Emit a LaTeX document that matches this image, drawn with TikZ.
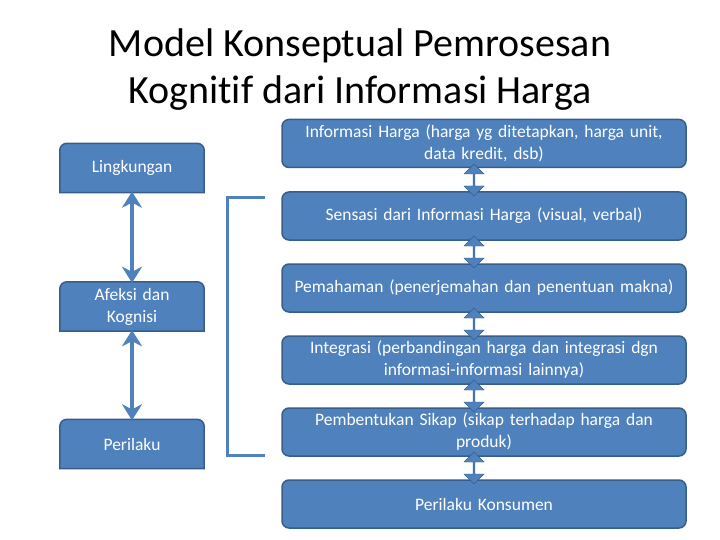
\documentclass[tikz,border=0pt]{standalone}
\usepackage{fontspec}
\setmainfont[Ligatures=NoCommon]{Carlito}
\usetikzlibrary{arrows.meta,shapes.arrows,backgrounds}
\definecolor{boxfill}{HTML}{4F81BD}
\definecolor{boxline}{HTML}{385D8A}
\tikzset{
  rbox/.style={draw=boxline,line width=1.5pt,fill=boxfill,rounded corners=7pt,
    text=white,font=\fontsize{17.5}{22}\selectfont,align=center,
    minimum width=404pt,minimum height=48pt,text width=395pt,inner sep=0pt},
  lbox/.style={text=white,font=\fontsize{17.5}{22}\selectfont,align=center,
    minimum width=144pt,minimum height=49pt,text width=135pt,inner sep=0pt},
  lshape/.style={draw=boxline,line width=1.5pt,fill=boxfill},
  bigarrow/.style={draw=boxfill,line width=4pt,
    {Stealth[length=16pt,width=20pt,inset=5pt]}-{Stealth[length=16pt,width=20pt,inset=5pt]},shorten <=-1pt,shorten >=-1pt},
  smallarrow/.style={double arrow,fill=boxfill,draw=boxline,line width=0.4pt,rotate=90,
    minimum height=32pt,minimum width=20pt,double arrow head extend=2pt,inner sep=0pt}
}
\newcommand{\topround}[1]{%
  \begin{scope}[on background layer]
  \path[lshape] (#1.south west) [rounded corners=7pt] -- (#1.north west) -- (#1.north east) [sharp corners] -- (#1.south east) -- cycle;
  \end{scope}}
\begin{document}
\begin{tikzpicture}[x=1pt,y=-1pt]
\useasboundingbox (0,0) rectangle (720,540);
\begin{scope}[on background layer]
\fill[white] (0,0) rectangle (720,540);
\end{scope}
% title
\node[font=\fontsize{40}{47}\selectfont,align=center] (title) at (360,70)
  {Model Konseptual Pemrosesan\\Kognitif dari Informasi Harga};
% right boxes
\node[rbox] (r1) at (484,143.5) {Informasi Harga (harga yg ditetapkan, harga unit,\\data kredit, dsb)};
\node[rbox] (r2) at (484,216) {Sensasi dari Informasi Harga (visual, verbal)};
\node[rbox] (r3) at (484,288) {Pemahaman (penerjemahan dan penentuan makna)};
\node[rbox] (r4) at (484,360) {Integrasi (perbandingan harga dan integrasi dgn\\informasi-informasi lainnya)};
\node[rbox] (r5) at (484,432) {Pembentukan Sikap (sikap terhadap harga dan\\produk)};
\node[rbox] (r6) at (484,504) {Perilaku Konsumen};
% small connectors
\node[smallarrow] (s1) at (474,180) {};
\node[smallarrow] (s2) at (474,252) {};
\node[smallarrow] (s3) at (474,324) {};
\node[smallarrow] (s4) at (474,396) {};
\node[smallarrow] (s5) at (474,468) {};
% left boxes
\node[lbox] (l1) at (132,168) {Lingkungan};
\node[lbox] (l2) at (132,306.5) {Afeksi dan\\Kognisi};
\node[lbox] (l3) at (132,444) {Perilaku};
\topround{l1}
\topround{l2}
\topround{l3}
\draw[bigarrow] (l1.south) -- (l2.north);
\draw[bigarrow] (l2.south) -- (l3.north);
% bracket
\coordinate (bt) at (265,198);
\coordinate (bb) at (265,455);
\draw[boxfill,line width=3pt] (bt) -- (227,198) -- (227,455) -- (bb);
\end{tikzpicture}
\end{document}
